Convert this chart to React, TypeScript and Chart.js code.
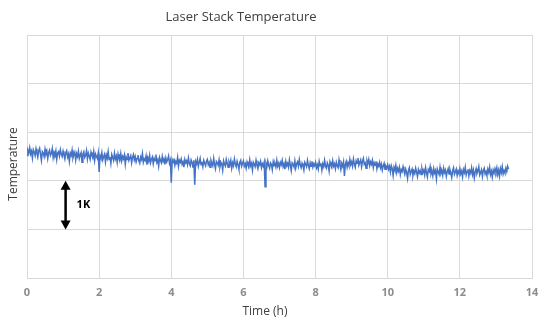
import React, { useEffect, useRef } from "react";
import { Chart, registerables } from "chart.js";

Chart.register(...registerables);

const TITLE = "Laser Stack Temperature";
const X_TITLE = "Time (h)";
const Y_TITLE = "Temperature";
const X_MIN = 0;
const X_MAX = 14;
const X_STEP = 2;
const Y_MIN = 0;
const Y_MAX = 5;
const Y_STEP = 1;
const SCALE_LABEL = "1K";
const SCALE_FROM_K = 2;
const SCALE_TO_K = 1;
const SCALE_AT_H = 1.07;
const SAMPLE_STEP_H = 0.025;

// Relative temperature (K, arbitrary offset), one sample every 0.025 h
const TEMPERATURE_K = [
  // 0-1 h
  2.52, 2.63, 2.58, 2.68, 2.55, 2.61, 2.47, 2.64, 2.59, 2.52, 2.66, 2.57, 2.49, 2.62, 2.67, 2.54, 2.42, 2.6, 2.57, 2.5,
  2.65, 2.55, 2.61, 2.46, 2.58, 2.63, 2.52, 2.56, 2.66, 2.48, 2.59, 2.54, 2.62, 2.44, 2.57, 2.6, 2.51, 2.64, 2.55, 2.5,
  // 1-2 h
  2.61, 2.53, 2.45, 2.58, 2.62, 2.49, 2.55, 2.4, 2.57, 2.52, 2.63, 2.47, 2.54, 2.59, 2.43, 2.56, 2.5, 2.61, 2.46, 2.53,
  2.58, 2.38, 2.55, 2.6, 2.48, 2.52, 2.62, 2.45, 2.57, 2.51, 2.44, 2.59, 2.53, 2.47, 2.6, 2.42, 2.55, 2.5, 2.46, 2.57,
  // 2-3 h
  2.18, 2.52, 2.47, 2.58, 2.43, 2.5, 2.55, 2.39, 2.53, 2.46, 2.6, 2.44, 2.49, 2.36, 2.54, 2.48, 2.42, 2.57, 2.45, 2.51,
  2.38, 2.55, 2.47, 2.43, 2.56, 2.41, 2.5, 2.45, 2.53, 2.34, 2.49, 2.44, 2.57, 2.42, 2.47, 2.52, 2.37, 2.48, 2.54, 2.43,
  // 3-4 h
  2.5, 2.39, 2.46, 2.53, 2.41, 2.36, 2.49, 2.44, 2.56, 2.38, 2.45, 2.42, 2.51, 2.33, 2.47, 2.4, 2.52, 2.37, 2.44, 2.49,
  2.35, 2.46, 2.41, 2.54, 2.38, 2.43, 2.3, 2.48, 2.42, 2.37, 2.5, 2.4, 2.45, 2.34, 2.47, 2.39, 2.44, 2.51, 2.36, 2.42,
  // 4-5 h
  1.96, 2.43, 2.37, 2.46, 2.32, 2.4, 2.36, 2.48, 2.3, 2.42, 2.38, 2.45, 2.34, 2.39, 2.28, 2.44, 2.37, 2.41, 2.33, 2.47,
  2.36, 2.31, 2.43, 2.38, 2.27, 2.42, 1.92, 2.4, 2.35, 2.44, 2.3, 2.38, 2.46, 2.33, 2.39, 2.29, 2.42, 2.36, 2.31, 2.4,
  // 5-6 h
  2.44, 2.33, 2.38, 2.28, 2.42, 2.36, 2.31, 2.46, 2.34, 2.25, 2.4, 2.37, 2.32, 2.43, 2.29, 2.38, 2.35, 2.22, 2.41, 2.34,
  2.3, 2.44, 2.36, 2.28, 2.39, 2.33, 2.42, 2.26, 2.37, 2.31, 2.45, 2.35, 2.29, 2.4, 2.33, 2.24, 2.38, 2.42, 2.3, 2.36,
  // 6-7 h
  2.41, 2.3, 2.35, 2.26, 2.39, 2.33, 2.28, 2.43, 2.31, 2.36, 2.22, 2.38, 2.34, 2.29, 2.42, 2.32, 2.25, 2.37, 2.33, 2.4,
  2.27, 2.35, 2.3, 2.38, 1.88, 2.36, 2.29, 2.41, 2.32, 2.26, 2.37, 2.34, 2.23, 2.39, 2.31, 2.35, 2.28, 2.42, 2.3, 2.36,
  // 7-8 h
  2.27, 2.38, 2.33, 2.42, 2.29, 2.35, 2.24, 2.4, 2.31, 2.36, 2.28, 2.43, 2.32, 2.21, 2.37, 2.34, 2.29, 2.41, 2.26, 2.35,
  2.39, 2.3, 2.44, 2.33, 2.27, 2.36, 2.31, 2.22, 2.38, 2.34, 2.29, 2.42, 2.32, 2.25, 2.37, 2.3, 2.4, 2.28, 2.35, 2.31,
  // 8-9 h
  2.38, 2.27, 2.33, 2.24, 2.4, 2.31, 2.36, 2.22, 2.35, 2.29, 2.42, 2.3, 2.26, 2.37, 2.32, 2.2, 2.39, 2.33, 2.28, 2.41,
  2.3, 2.35, 2.25, 2.38, 2.31, 2.27, 2.43, 2.32, 2.23, 2.36, 2.3, 2.39, 2.1, 2.34, 2.4, 2.28, 2.37, 2.31, 2.44, 2.33,
  // 9-10 h
  2.39, 2.3, 2.45, 2.35, 2.28, 2.41, 2.36, 2.47, 2.32, 2.38, 2.43, 2.29, 2.4, 2.46, 2.34, 2.37, 2.26, 2.42, 2.36, 2.44,
  2.31, 2.39, 2.34, 2.42, 2.27, 2.37, 2.32, 2.4, 2.25, 2.35, 2.3, 2.38, 2.27, 2.34, 2.22, 2.31, 2.36, 2.24, 2.3, 2.26,
  // 10-11 h
  2.33, 2.24, 2.3, 2.18, 2.31, 2.25, 2.11, 2.28, 2.22, 2.32, 2.17, 2.26, 2.2, 2.28, 2.13, 2.23, 2.19, 2.29, 2.21, 2.14,
  2.24, 2.17, 2.05, 2.22, 2.27, 2.13, 2.19, 2.24, 2.11, 2.2, 2.15, 2.26, 2.18, 2.09, 2.23, 2.16, 2.21, 2.13, 2.25, 2.17,
  // 11-12 h
  2.22, 2.12, 2.27, 2.17, 2.08, 2.23, 2.19, 2.29, 2.14, 2.2, 2.1, 2.25, 2.16, 2.21, 2.04, 2.24, 2.18, 2.13, 2.28, 2.15,
  2.2, 2.11, 2.26, 2.17, 2.22, 2.09, 2.19, 2.25, 2.14, 2.23, 2.16, 2.07, 2.21, 2.27, 2.13, 2.18, 2.24, 2.11, 2.2, 2.15,
  // 12-13 h
  2.25, 2.14, 2.2, 2.08, 2.23, 2.17, 2.28, 2.12, 2.19, 2.24, 2.1, 2.21, 2.16, 2.27, 2.13, 2.22, 2.06, 2.18, 2.25, 2.15,
  2.2, 2.29, 2.12, 2.17, 2.23, 2.09, 2.21, 2.26, 2.14, 2.19, 2.11, 2.24, 2.17, 2.28, 2.13, 2.2, 2.08, 2.22, 2.16, 2.25,
  // 13-13.35 h
  2.18, 2.27, 2.13, 2.22, 2.1, 2.25, 2.17, 2.29, 2.14, 2.21, 2.16, 2.26, 2.19, 2.3, 2.24,
];

const TIME_H = TEMPERATURE_K.map((_, i) => +(i * SAMPLE_STEP_H).toFixed(3));

const overlayPlugin = {
  id: "overlay",
  afterDraw(chart: any) {
    const { ctx, scales } = chart;
    const x = scales.x;
    const y = scales.y;
    ctx.save();
    // Titles
    ctx.fillStyle = "#404040";
    ctx.textAlign = "center";
    ctx.textBaseline = "middle";
    ctx.font = '13px "Open Sans"';
    ctx.fillText(TITLE, 241, 17);
    ctx.font = '12px "Open Sans"';
    ctx.fillText(X_TITLE, 265, 312);
    ctx.save();
    ctx.translate(14, 164);
    ctx.rotate(-Math.PI / 2);
    ctx.fillText(Y_TITLE, 0, 0);
    ctx.restore();

    // 1K scale arrow
    const px = x.getPixelForValue(SCALE_AT_H);
    const yTop = y.getPixelForValue(SCALE_FROM_K);
    const yBot = y.getPixelForValue(SCALE_TO_K);
    const head = 9;
    const half = 5;
    ctx.strokeStyle = "#000";
    ctx.fillStyle = "#000";
    ctx.lineWidth = 2.5;
    ctx.beginPath();
    ctx.moveTo(px, yTop + head - 1);
    ctx.lineTo(px, yBot - head + 1);
    ctx.stroke();
    ctx.beginPath();
    ctx.moveTo(px, yTop);
    ctx.lineTo(px - half, yTop + head);
    ctx.lineTo(px + half, yTop + head);
    ctx.closePath();
    ctx.fill();
    ctx.beginPath();
    ctx.moveTo(px, yBot);
    ctx.lineTo(px - half, yBot - head);
    ctx.lineTo(px + half, yBot - head);
    ctx.closePath();
    ctx.fill();
    ctx.font = 'bold 11px "Open Sans"';
    ctx.textAlign = "left";
    ctx.fillText(SCALE_LABEL, px + 11, (yTop + yBot) / 2);
    ctx.restore();
  },
};

export default function App() {
  const canvasRef = useRef<HTMLCanvasElement | null>(null);

  useEffect(() => {
    const canvas = canvasRef.current;
    if (!canvas) return;
    const chart = new Chart(canvas, {
      type: "line",
      data: {
        datasets: [
          {
            label: "Temperature",
            data: TEMPERATURE_K.map((v, i) => ({ x: TIME_H[i], y: v })),
            borderColor: "#4472C4",
            borderWidth: 1.5,
            pointRadius: 0,
            tension: 0,
            fill: false,
          },
        ],
      },
      options: {
        animation: false,
        responsive: false,
        devicePixelRatio: 1,
        layout: { padding: { top: 35, right: 10, left: 0, bottom: 0 } },
        plugins: {
          legend: { display: false },
          title: { display: false },
          tooltip: { enabled: false },
        },
        scales: {
          x: {
            type: "linear",
            min: X_MIN,
            max: X_MAX,
            ticks: {
              stepSize: X_STEP,
              color: "#8c8c8c",
              font: { family: "Open Sans", size: 11, weight: "bold" },
              padding: 8,
              maxRotation: 0,
            },
            grid: { color: "#d9d9d9", lineWidth: 1, drawTicks: false },
            border: { color: "#d9d9d9" },
            afterFit(scale: any) {
              scale.height = 48;
              scale.paddingLeft = 0;
              scale.paddingRight = 0;
            },
          },
          y: {
            min: Y_MIN,
            max: Y_MAX,
            ticks: { stepSize: Y_STEP, display: false },
            grid: { color: "#d9d9d9", lineWidth: 1, drawTicks: false },
            border: { color: "#d9d9d9" },
            afterFit(scale: any) {
              scale.width = 27;
            },
          },
        },
      },
      plugins: [overlayPlugin],
    });
    return () => chart.destroy();
  }, []);

  return (
    <div style={{ position: "absolute", left: 0, top: 0, width: 542, height: 326, background: "#fff" }}>
      <canvas ref={canvasRef} width={542} height={326} style={{ width: 542, height: 326, display: "block" }} />
    </div>
  );
}
